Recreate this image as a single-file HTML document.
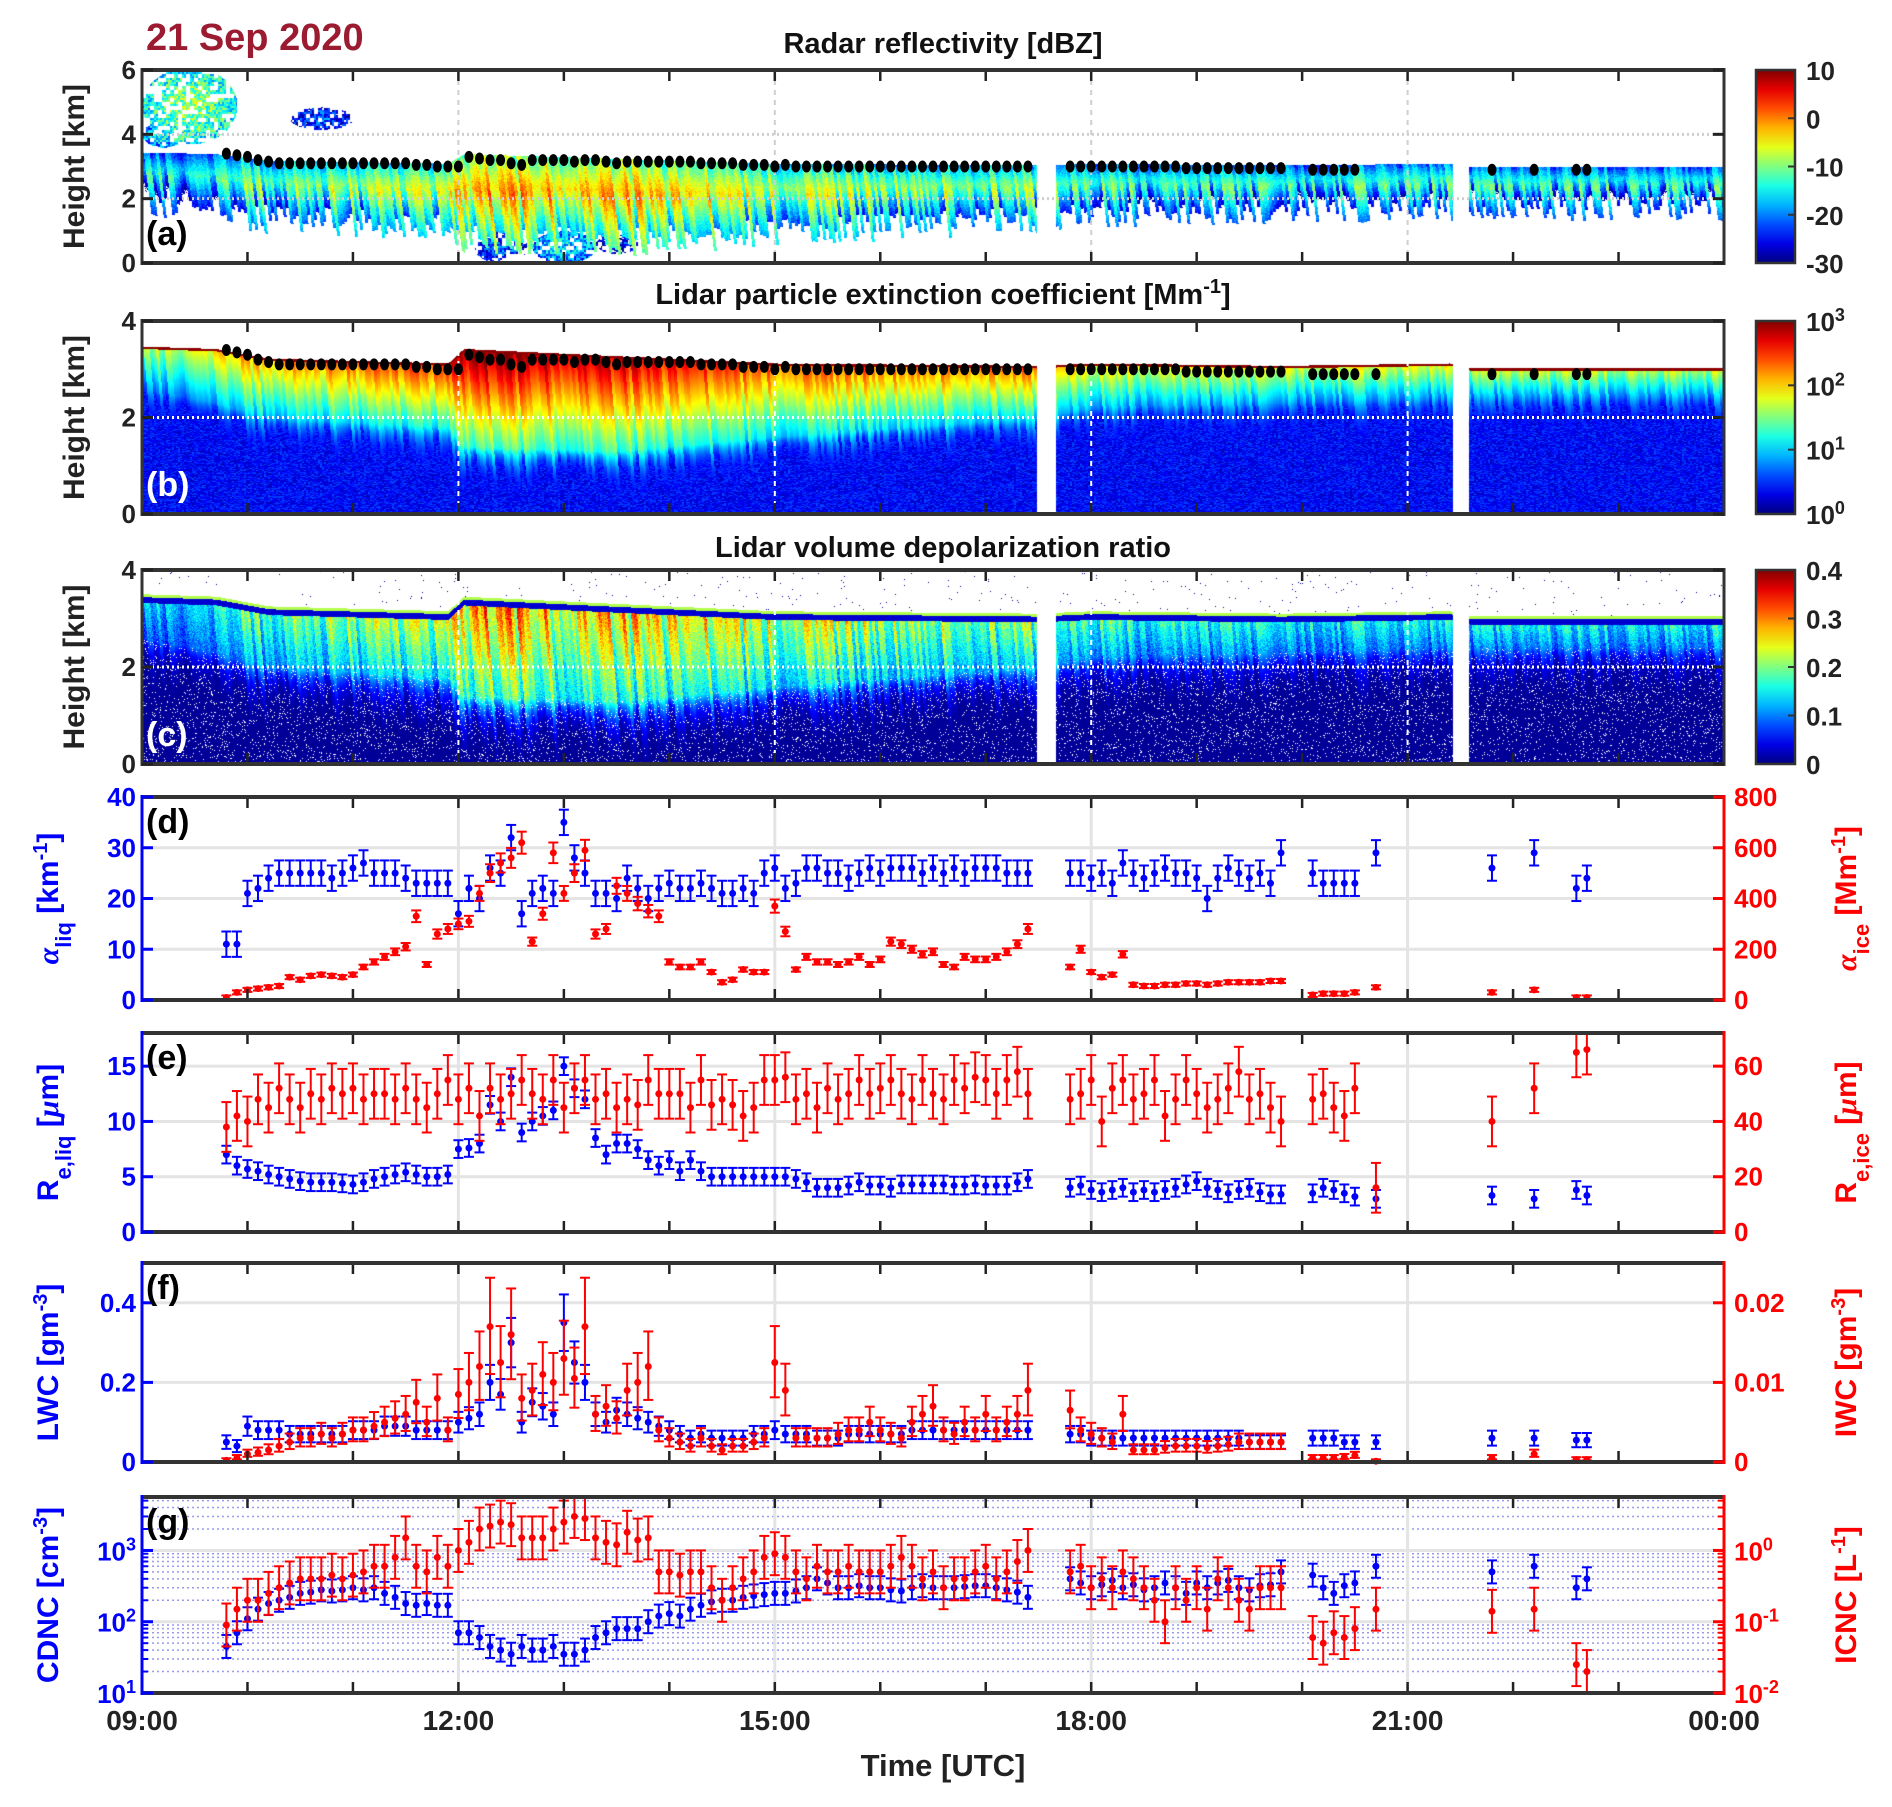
<!DOCTYPE html>
<html><head><meta charset="utf-8">
<style>
html,body{margin:0;padding:0;background:#fff;}
#root{position:relative;width:1892px;height:1807px;overflow:hidden;font-family:"Liberation Sans",sans-serif;}
canvas{position:absolute;}
svg{position:absolute;left:0;top:0;}
text{font-family:"Liberation Sans",sans-serif;font-weight:bold;}
</style></head>
<body>
<div id="root">
<canvas id="ca"></canvas>
<canvas id="cb"></canvas>
<canvas id="cc"></canvas>
<svg id="sv" width="1892" height="1807"></svg>
</div>
<script>
// ---------------- data ----------------
const T=[9.8,9.9,10.0,10.1,10.2,10.3,10.4,10.5,10.6,10.7,10.8,10.9,
11.0,11.1,11.2,11.3,11.4,11.5,11.6,11.7,11.8,11.9,
12.0,12.1,12.2,12.3,12.4,12.5,12.6,12.7,12.8,12.9,
13.0,13.1,13.2,13.3,13.4,13.5,13.6,13.7,13.8,13.9,
14.0,14.1,14.2,14.3,14.4,14.5,14.6,14.7,14.8,14.9,
15.0,15.1,15.2,15.3,15.4,15.5,15.6,15.7,15.8,15.9,
16.0,16.1,16.2,16.3,16.4,16.5,16.6,16.7,16.8,16.9,
17.0,17.1,17.2,17.3,17.4,
17.8,17.9,18.0,18.1,18.2,18.3,18.4,18.5,18.6,18.7,18.8,18.9,19.0,19.1,19.2,19.3,19.4,19.5,19.6,19.7,19.8,
20.1,20.2,20.3,20.4,20.5,20.7,
21.8,22.2,22.6,22.7];
const alphaLiq=[11,11,21,22,24,25,25,25,25,25,24,25,
26,27,25,25,25,24,23,23,23,23,
17,22,20,26,25,32,17,21,22,21,
35,28,25,21,21,20,24,22,20,22,
23,22,22,23,22,21,21,22,21,25,
26,22,23,26,26,25,25,24,25,26,
25,26,26,26,25,26,25,26,25,26,
26,26,25,25,25,
25,25,24,25,23,27,25,24,25,26,25,25,24,20,24,26,25,24,25,23,29,
25,23,23,23,23,29,
26,29,22,24];
const alphaIce=[10,30,40,45,50,55,90,80,95,100,95,90,
100,130,150,170,190,210,330,140,260,280,
300,310,420,500,540,560,620,230,340,580,
420,500,590,260,280,450,420,380,350,330,
150,130,130,150,110,70,80,120,110,110,
370,270,120,170,150,150,140,150,170,140,
160,230,220,200,180,190,140,130,170,160,
160,170,190,220,280,
130,200,110,90,100,180,60,55,55,60,60,65,65,60,65,70,70,70,70,75,75,
20,25,25,25,30,50,
30,40,10,10];
const reLiq=[7,6,5.7,5.5,5.2,5,4.8,4.6,4.5,4.5,4.5,4.4,
4.3,4.5,4.8,5,5.2,5.4,5.2,5,5,5.2,
7.5,7.6,8,11.5,10,14,9,10,10.5,11,
15,13,12,8.5,7,8,8,7.5,6.5,6,
6.5,5.5,6.5,5.5,5,5,5,5,5,5,
5,5,4.8,4.5,4,4,4,4.2,4.5,4.2,
4.2,4,4.3,4.3,4.3,4.3,4.3,4.2,4.2,4.3,
4.2,4.2,4.2,4.5,4.8,
4,4.2,3.8,3.6,3.8,4,3.6,3.8,3.6,3.8,4,4.3,4.6,4,3.8,3.5,3.8,4,3.6,3.4,3.4,
3.5,4,3.8,3.5,3.2,3.0,
3.3,3.0,3.8,3.3];
const reIce=[38,42,40,48,45,52,48,45,50,48,52,50,
52,48,50,50,48,52,48,45,50,55,
48,52,42,52,48,50,55,50,48,55,
45,52,55,48,50,45,48,46,55,50,
50,50,45,55,46,48,46,42,45,55,
55,56,48,50,45,52,48,50,55,50,
52,55,50,48,55,50,48,55,52,56,
55,50,55,58,50,
48,50,55,40,52,55,48,50,55,42,48,55,50,45,48,52,58,48,50,45,40,
48,50,45,42,52,16,
40,52,65,66];
const lwc=[.05,.04,.09,.08,.08,.08,.07,.07,.07,.07,.07,.07,
.08,.08,.08,.09,.09,.09,.08,.08,.08,.08,
.10,.11,.12,.2,.17,.3,.1,.15,.14,.12,
.35,.25,.2,.12,.1,.13,.12,.11,.1,.09,
.08,.07,.06,.07,.06,.06,.06,.06,.07,.07,
.08,.07,.07,.07,.06,.06,.06,.07,.07,.07,
.07,.07,.07,.08,.08,.08,.08,.08,.08,.08,
.08,.08,.08,.08,.08,
.07,.07,.06,.06,.06,.06,.06,.06,.06,.06,.06,.06,.06,.06,.06,.06,.06,.05,.05,.05,.05,
.06,.06,.06,.05,.05,.05,
.06,.06,.055,.055];
const iwc=[0.0002,0.0005,0.001,0.0012,0.0015,0.002,0.0025,0.003,0.003,0.0035,0.003,0.0035,
0.004,0.004,0.0045,0.005,0.0055,0.006,0.0075,0.005,0.008,0.004,
0.0085,0.010,0.012,0.017,0.0125,0.016,0.008,0.009,0.011,0.010,
0.013,0.0105,0.017,0.006,0.007,0.0055,0.009,0.010,0.012,0.004,
0.003,0.0025,0.002,0.003,0.002,0.0015,0.002,0.002,0.0025,0.003,
0.0125,0.009,0.003,0.003,0.003,0.003,0.0035,0.004,0.004,0.005,
0.004,0.0035,0.003,0.005,0.006,0.007,0.004,0.0035,0.005,0.004,
0.006,0.004,0.005,0.006,0.009,
0.0065,0.004,0.0035,0.003,0.0025,0.006,0.0015,0.0015,0.0015,0.0018,0.002,0.002,0.002,0.0018,0.002,0.0022,0.0025,0.0025,0.0025,0.0025,0.0025,
0.0005,0.0005,0.0005,0.0006,0.0008,0.0001,
0.0005,0.001,0.0003,0.0003];
const cdnc=[45,70,110,150,180,200,220,250,260,280,270,280,
300,280,300,250,220,180,170,180,170,170,
70,70,60,45,40,35,45,40,40,45,
35,35,40,60,70,80,80,80,100,120,
130,120,150,170,190,200,200,220,230,240,
250,250,270,300,400,350,300,300,320,300,
300,280,270,300,320,300,300,300,310,320,
320,300,280,260,220,
400,350,300,330,380,300,330,280,300,350,300,250,350,300,350,380,300,280,320,330,500,
450,300,250,320,350,600,
500,600,300,400];
const icnc=[.09,.15,.2,.2,.25,.3,.35,.4,.4,.4,.45,.4,
.45,.5,.6,.6,.8,1.5,.6,.5,.8,.6,
1,1.3,2,2.2,2.5,2.3,1.5,1.5,1.5,2,
2.5,3,2.8,1.5,1.3,1.2,1.8,1.4,1.5,.5,
.5,.45,.5,.5,.3,.2,.3,.4,.5,.8,
.9,.8,.5,.4,.6,.5,.5,.6,.5,.5,
.5,.6,.8,.6,.4,.5,.3,.4,.4,.5,
.6,.4,.5,.7,1.0,
.5,.6,.3,.4,.3,.5,.4,.3,.2,.1,.3,.2,.3,.15,.4,.3,.2,.15,.3,.3,.3,
.06,.05,.07,.06,.08,.15,
.14,.15,.025,.02];
const topKm=[3.4,3.35,3.3,3.2,3.15,3.1,3.1,3.1,3.1,3.1,3.1,3.1,
3.1,3.1,3.1,3.1,3.1,3.1,3.05,3.05,3.0,3.0,
3.0,3.3,3.25,3.2,3.2,3.1,3.05,3.2,3.2,3.2,
3.2,3.15,3.2,3.2,3.15,3.1,3.15,3.15,3.15,3.15,
3.15,3.15,3.15,3.1,3.1,3.1,3.1,3.05,3.05,3.05,
3.0,3.05,3.0,3.0,3.0,3.0,3.0,3.0,3.0,3.0,
3.0,3.0,3.0,3.0,3.0,3.0,3.0,3.0,3.0,3.0,
3.0,3.0,3.0,3.0,3.0,
3.0,3.0,3.0,3.0,3.0,3.0,3.0,3.0,3.0,3.0,3.0,2.95,2.95,2.95,2.95,2.95,2.95,2.95,2.95,2.95,2.95,
2.9,2.9,2.9,2.9,2.9,2.9,
2.9,2.9,2.9,2.9];
// heatmap profile arrays
const hmTimes=[9.0,9.7,10.2,11.9,12.05,13.5,15.0,17.5,18.0,19.8,21.4,21.6,24];
const hmTop=[3.45,3.4,3.2,3.1,3.4,3.25,3.1,3.05,3.1,3.05,3.1,3.0,3.0];
const hmBase=[2.6,2.3,2.0,1.8,1.4,1.3,1.6,2.0,2.2,2.3,2.4,2.4,2.4];
const hmDbz=[-15,-12,-10,-7,-2,-2,-7,-9,-12,-13,-12,-13,-13];
const hmExt=[1.5,2.0,2.2,2.5,3.0,2.8,2.4,2.3,1.9,1.8,1.8,1.7,1.7];
const hmDep=[0.15,0.2,0.25,0.28,0.36,0.33,0.3,0.26,0.22,0.2,0.2,0.2,0.2];
const gaps=[[17.48,17.66],[21.43,21.58]];
const radarBlobs=[[9.45,4.9,0.45,1.2,-10],[9.2,4.0,0.2,0.4,-15],[10.7,4.5,0.3,0.35,-22],[12.4,0.5,0.25,0.5,-22],[13.0,0.5,0.3,0.5,-16],[13.5,0.6,0.2,0.3,-24]];

// ---------------- layout ----------------
const L=142,R=1724,W=R-L;
const P={a:[70,263],b:[321,514],c:[570,764],d:[797,1000],e:[1033,1232],f:[1263,1462],g:[1497,1693]};
const xT=t=>L+(t-9)/15*W;
const NS="http://www.w3.org/2000/svg";
const sv=document.getElementById('sv');
function mk(tag,attrs,parent){const e=document.createElementNS(NS,tag);for(const k in attrs)e.setAttribute(k,attrs[k]);(parent||sv).appendChild(e);return e;}
function interp(t,xs,ys){if(t<=xs[0])return ys[0];for(let i=1;i<xs.length;i++){if(t<=xs[i]){const f=(t-xs[i-1])/(xs[i]-xs[i-1]);return ys[i-1]+f*(ys[i]-ys[i-1]);}}return ys[ys.length-1];}
function hash(i,j){let h=(i*374761393+j*668265263)|0;h=(h^(h>>>13))*1274126177|0;return ((h^(h>>>16))>>>0)/4294967296;}
function jet(v){v=Math.max(0,Math.min(1,v));const c=x=>Math.round(255*Math.max(0,Math.min(1,x)));return [c(1.5-Math.abs(4*v-3)),c(1.5-Math.abs(4*v-2)),c(1.5-Math.abs(4*v-1))];}
function inGap(t){return gaps.some(g=>t>=g[0]&&t<=g[1]);}

// ---------------- heatmaps ----------------
function heat(id,key,hmax,fn){
  const [y0,y1]=P[key];const H=y1-y0;const cv=document.getElementById(id);
  cv.width=W;cv.height=H;cv.style.left=L+'px';cv.style.top=y0+'px';
  const ctx=cv.getContext('2d');const img=ctx.createImageData(W,H);
  for(let x=0;x<W;x++){const t=9+x/W*15;const gap=inGap(t);
    const top=interp(t,hmTimes,hmTop),base=interp(t,hmTimes,hmBase);
    for(let y=0;y<H;y++){const h=(H-y)/H*hmax;let col=[255,255,255];
      if(!gap){const c=fn(t,h,x,y,top,base);if(c)col=c;}
      const k=(y*W+x)*4;img.data[k]=col[0];img.data[k+1]=col[1];img.data[k+2]=col[2];img.data[k+3]=255;}}
  ctx.putImageData(img,0,0);
}
function streak(x,h){return hash(Math.floor((x+h*4)/3),7);}
heat('ca','a',6,(t,h,x,y,top,base)=>{
  let v=-99;
  const n=streak(x,h);
  const b=base-0.9*n-0.2;
  if(h<=top&&h>=b){const f=(h-b)/(top-b);v=interp(t,hmTimes,hmDbz)-22*Math.abs(f-0.6)+(n-0.5)*10+(hash(x,y)-0.5)*4;}
  for(const bl of radarBlobs){const dx=(t-bl[0])/bl[2],dy=(h-bl[1])/bl[3];const d=dx*dx+dy*dy;if(d<1){const q=bl[4]-6*d+(hash(x>>1,y>>1)-0.5)*12;if(q>v&&hash(x>>2,y>>2)>0.3)v=q;}}
  if(v<-30)return null;return jet((v+30)/40);
});
heat('cb','b',4,(t,h,x,y,top,base)=>{
  if(h>top+0.03)return null;
  if(h>top-0.02)return [140,0,0];
  const n=streak(x,h);let lv;const pk=interp(t,hmTimes,hmExt);
  if(h>=base){const f=(h-base)/(top-base);lv=pk*(0.45+0.55*f)+(n-0.5)*0.5;}
  else{lv=Math.max(0.15+0.45*hash(x>>1,y),(pk*0.45+(n-0.5)*0.5)*Math.exp(-(base-h)/(0.2+0.4*n)));}
  return jet(lv/3);
});
heat('cc','c',4,(t,h,x,y,top,base)=>{
  if(h>top+0.06)return (hash(x,y)>0.995)?[0,0,150]:null;
  if(h>top)return jet(0.55);
  if(h>top-0.12)return jet(0.08);
  const n=streak(x,h);const pk=interp(t,hmTimes,hmDep);
  if(h>=base){const f=(h-base)/(top-base);return jet(pk*(0.55+0.5*n)*(0.6+0.4*f)/0.4+(hash(x,y)-0.5)*0.15);}
  if(hash(x,y)>0.94)return null;
  const v=Math.max(0.01,pk*0.6*(0.55+0.5*n)*Math.exp(-(base-h)/(0.2+0.3*n)));
  return jet(v/0.4);
});

// ---------------- helpers ----------------
function txt(x,y,s,attrs,parent){const e=mk('text',Object.assign({x:x,y:y},attrs||{}),parent);e.textContent=s;return e;}
function vlabel(x,yc,parts,fill,name){
  const g=mk('g',{transform:`translate(${x},${yc}) rotate(-90)`});
  
  
  const t=mk('text',{x:0,y:0,'text-anchor':'middle',fill:fill,'font-size':30},g);
  for(const p of parts){const ts=mk('tspan',{},t);ts.textContent=p[0];
    if(p[1]==='sub'){ts.setAttribute('baseline-shift','sub');ts.setAttribute('font-size','22');}
    if(p[1]==='sup'){ts.setAttribute('baseline-shift','super');ts.setAttribute('font-size','20');}
    if(p[1]==='it'){ts.setAttribute('font-style','italic');ts.setAttribute('font-family','Liberation Serif, serif');}}
  return g;
}
const hourTicks=[9,10,11,12,13,14,15,16,17,18,19,20,21,22,23,24];
function frame(key,leftCol,rightCol,gname){
  const [y0,y1]=P[key];
  const g=mk('g',{});
  
  
  for(const h of hourTicks){const x=xT(h);
    mk('line',{x1:x,x2:x,y1:y1,y2:y1-11,stroke:'#222','stroke-width':2.5},g);
    mk('line',{x1:x,x2:x,y1:y0,y2:y0+11,stroke:'#222','stroke-width':2.5},g);}
  mk('line',{x1:L,x2:R,y1:y0,y2:y0,stroke:'#333','stroke-width':4},g);
  mk('line',{x1:L,x2:R,y1:y1,y2:y1,stroke:'#333','stroke-width':4},g);
  mk('line',{x1:L,x2:L,y1:y0-2,y2:y1+2,stroke:leftCol,'stroke-width':3},g);
  mk('line',{x1:R,x2:R,y1:y0-2,y2:y1+2,stroke:rightCol,'stroke-width':3},g);
  return g;
}
function yticks(key,vals,labels,fy,side,col,g){
  for(let i=0;i<vals.length;i++){const y=fy(vals[i]);
    if(side==='l'){mk('line',{x1:L,x2:L+11,y1:y,y2:y,stroke:col,'stroke-width':3},g);
      const t=txt(L-6,y+9,labels[i],{'text-anchor':'end',fill:col,'font-size':26},g);
      
      }
    else{mk('line',{x1:R,x2:R-11,y1:y,y2:y,stroke:col,'stroke-width':3},g);
      const t=txt(R+10,y+9,labels[i],{'text-anchor':'start',fill:col,'font-size':26},g);
      
      }}
}
function supLabel(x,y,base,exp,col,anchor,g){
  const t=mk('text',{x:x,y:y,fill:col,'font-size':26,'text-anchor':anchor},g);
  const a=mk('tspan',{},t);a.textContent=base;
  const b=mk('tspan',{'baseline-shift':'super','font-size':18},t);b.textContent=exp;return t;
}

// ---------------- heatmap panels decorations ----------------
const hmPanels=[['a',6,[0,2,4,6],'(a)','#000'],['b',4,[0,2,4],'(b)','#fff'],['c',4,[0,2,4],'(c)','#fff']];
for(const hp of hmPanels){
  const [key,hmax,ticks,lab,labCol]=hp;const [y0,y1]=P[key];
  const fy=v=>y1-v/hmax*(y1-y0);
  const g=mk('g',{});
  
  
  const lc=key==='a'?'#cfcfcf':'#ffffff';
  for(const hl of (key==='a'?[2,4]:[2])){const l=mk('line',{x1:L,x2:R,y1:fy(hl),y2:fy(hl),stroke:lc,'stroke-width':3,'stroke-dasharray':'2,3'},g);
    
    }
  for(const vl of [12,15,18,21]){const l=mk('line',{x1:xT(vl),x2:xT(vl),y1:y0,y2:y1,stroke:lc,'stroke-width':2,'stroke-dasharray':'5,5'},g);
    
    }
  if(key!=='c'){for(let i=0;i<T.length;i++){if(key==='a'&&(T[i]===20.7))continue;
    const d=mk('ellipse',{cx:xT(T[i]),cy:fy(topKm[i]),rx:4.5,ry:6,fill:'#000'},g);
    
    }}
  const fg=frame(key,'#333','#333','axes-frame-'+key);
  yticks(key,ticks,ticks.map(String),fy,'l','#222',fg);
  for(const v of ticks){mk('line',{x1:R,x2:R-11,y1:fy(v),y2:fy(v),stroke:'#222','stroke-width':3},fg);}
  const pl=txt(L+4,y1-18,lab,{fill:labCol,'font-size':34});
  
  
  vlabel(84,(y0+y1)/2,[['Height [km]','']],'#222','y-axis-title-'+key);
}
let tt=txt(943,53,'Radar reflectivity [dBZ]',{'text-anchor':'middle','font-size':29,fill:'#111'});


tt=mk('text',{x:943,y:304,'text-anchor':'middle','font-size':29,fill:'#111'});


(function(){const a=mk('tspan',{},tt);a.textContent='Lidar particle extinction coefficient [Mm';const b=mk('tspan',{'baseline-shift':'super','font-size':20},tt);b.textContent='-1';const c=mk('tspan',{'baseline-shift':'baseline'},tt);c.textContent=']';})();
tt=txt(943,557,'Lidar volume depolarization ratio',{'text-anchor':'middle','font-size':29,fill:'#111'});


tt=txt(146,50,'21 Sep 2020',{'font-size':38,fill:'#9b1b30'});



// colorbars
const defs=mk('defs',{});
const gr=mk('linearGradient',{id:'jetg',x1:0,y1:1,x2:0,y2:0},defs);
for(let i=0;i<=10;i++){const c=jet(i/10);mk('stop',{offset:i/10,'stop-color':`rgb(${c})`},gr);}
const cbX=1756,cbW=39;
const cbDefs=[['a',['10','0','-10','-20','-30'],null],['b',['10','10','10','10'],['3','2','1','0']],['c',['0.4','0.3','0.2','0.1','0'],null]];
for(const cb of cbDefs){const [key,labs,exps]=cb;const [y0,y1]=P[key];
  const g=mk('g',{});
  
  
  mk('rect',{x:cbX,y:y0,width:cbW,height:y1-y0,fill:'url(#jetg)',stroke:'#333','stroke-width':2.5},g);
  for(let i=0;i<labs.length;i++){const y=y0+i/(labs.length-1)*(y1-y0);
    mk('line',{x1:cbX+cbW,x2:cbX+cbW-7,y1:y,y2:y,stroke:'#333','stroke-width':2},g);
    if(exps)supLabel(1806,y+10,labs[i],exps[i],'#222','start',g);
    else txt(1806,y+10,labs[i],{'font-size':26,fill:'#222'},g);}
}

// ---------------- point panels ----------------
const BLUE='#0000ff',RED='#ff0000';
function pointPanel(key,opt){
  const [y0,y1]=P[key];
  const g=mk('g',{});
  
  
  const fyL=opt.log?v=>y1-(Math.log10(v)-opt.lmin)/(opt.lmax-opt.lmin)*(y1-y0):v=>y1-v/opt.lmax*(y1-y0);
  const fyR=opt.log?v=>y1-(Math.log10(v)-opt.rmin)/(opt.rmax-opt.rmin)*(y1-y0):v=>y1-v/opt.rmax*(y1-y0);
  if(opt.log){for(let d=opt.lmin;d<Math.ceil(opt.lmax);d++){for(let m=2;m<=9;m++){const v=m*Math.pow(10,d);if(Math.log10(v)>opt.lmax)break;
      const l=mk('line',{x1:L,x2:R,y1:fyL(v),y2:fyL(v),stroke:'#9999ee','stroke-width':1.5,'stroke-dasharray':'2,3'},g);
      
      }}}
  for(const v of opt.lt){const l=mk('line',{x1:L,x2:R,y1:fyL(v),y2:fyL(v),stroke:'#e4e4e4','stroke-width':3},g);
    
    }
  for(const vl of [12,15,18,21]){const l=mk('line',{x1:xT(vl),x2:xT(vl),y1:y0,y2:y1,stroke:'#e4e4e4','stroke-width':3},g);
    
    }
  function series(vals,fy,col,errFn,name){
    const sg=mk('g',{},g);
    
    
    for(let i=0;i<T.length;i++){const v=vals[i];if(v==null)continue;const x=xT(T[i]);const [lo,hi]=errFn(v);
      const ya=Math.max(y0,fy(hi)),yb=Math.min(y1,fy(lo));
      mk('line',{x1:x,x2:x,y1:ya,y2:yb,stroke:col,'stroke-width':2},sg);
      mk('line',{x1:x-5,x2:x+5,y1:ya,y2:ya,stroke:col,'stroke-width':2},sg);
      mk('line',{x1:x-5,x2:x+5,y1:yb,y2:yb,stroke:col,'stroke-width':2},sg);
      const c=mk('circle',{cx:x,cy:fy(v),r:3.5,fill:col},sg);
      
      }
  }
  series(opt.sL,fyL,BLUE,opt.eL,opt.nL);
  series(opt.sR,fyR,RED,opt.eR,opt.nR);
  const fg=frame(key,BLUE,RED,'axes-frame-'+key);
  if(opt.log){for(let i=0;i<opt.lt.length;i++){const y=fyL(opt.lt[i]);mk('line',{x1:L,x2:L+11,y1:y,y2:y,stroke:BLUE,'stroke-width':3},fg);supLabel(L-6,y+10,'10',opt.lexp[i],BLUE,'end',fg);}
    for(let i=0;i<opt.rt.length;i++){const y=fyR(opt.rt[i]);mk('line',{x1:R,x2:R-11,y1:y,y2:y,stroke:RED,'stroke-width':3},fg);supLabel(R+10,y+10,'10',opt.rexp[i],RED,'start',fg);}
    for(let d=opt.lmin;d<Math.ceil(opt.lmax);d++){for(let m=2;m<=9;m++){const v=m*Math.pow(10,d);if(Math.log10(v)>opt.lmax)break;
      mk('line',{x1:L,x2:L+6,y1:fyL(v),y2:fyL(v),stroke:BLUE,'stroke-width':2},fg);mk('line',{x1:R,x2:R-6,y1:fyL(v),y2:fyL(v),stroke:RED,'stroke-width':2},fg);}}}
  else{yticks(key,opt.lt,opt.ltl,fyL,'l',BLUE,fg);yticks(key,opt.rt,opt.rtl,fyR,'r',RED,fg);}
  const pl=txt(L+4,y0+36,'('+key+')',{fill:'#000','font-size':34});
  
  
  vlabel(58,(y0+y1)/2,opt.labL,BLUE,'y-axis-title-'+key);
  vlabel(1856,(y0+y1)/2,opt.labR,RED,'y2-axis-title-'+key);
}
pointPanel('d',{lmax:40,rmax:800,lt:[0,10,20,30,40],ltl:['0','10','20','30','40'],rt:[0,200,400,600,800],rtl:['0','200','400','600','800'],
  sL:alphaLiq,sR:alphaIce,eL:v=>[v-2.5,v+2.5],eR:v=>[v-Math.max(8,v*0.07),v+Math.max(8,v*0.07)],nL:'alpha-liq-series',nR:'alpha-ice-series',
  labL:[['α','it'],['liq','sub'],[' [km',''],['-1','sup'],[']','']],labR:[['α','it'],['ice','sub'],[' [Mm',''],['-1','sup'],[']','']]});
pointPanel('e',{lmax:18,rmax:72,lt:[0,5,10,15],ltl:['0','5','10','15'],rt:[0,20,40,60],rtl:['0','20','40','60'],
  sL:reLiq,sR:reIce,eL:v=>[v-0.8,v+0.8],eR:v=>[v-9,v+9],nL:'re-liq-series',nR:'re-ice-series',
  labL:[['R',''],['e,liq','sub'],[' [',''],['μ','it'],['m]','']],labR:[['R',''],['e,ice','sub'],[' [',''],['μ','it'],['m]','']]});
pointPanel('f',{lmax:0.5,rmax:0.025,lt:[0,0.2,0.4],ltl:['0','0.2','0.4'],rt:[0,0.01,0.02],rtl:['0','0.01','0.02'],
  sL:lwc,sR:iwc,eL:v=>[v-v*0.18-0.008,v+v*0.18+0.008],eR:v=>[v-v*0.35,v+v*0.35+0.0002],nL:'lwc-series',nR:'iwc-series',
  labL:[['LWC [gm',''],['-3','sup'],[']','']],labR:[['IWC [gm',''],['-3','sup'],[']','']]});
pointPanel('g',{log:true,lmin:1,lmax:3.75,rmin:-2,rmax:0.75,lt:[10,100,1000],lexp:['1','2','3'],rt:[0.01,0.1,1],rexp:['-2','-1','0'],
  sL:cdnc,sR:icnc,eL:v=>[v/1.45,v*1.45],eR:v=>[v/2,v*2],nL:'cdnc-series',nR:'icnc-series',
  labL:[['CDNC [cm',''],['-3','sup'],[']','']],labR:[['ICNC [L',''],['-1','sup'],[']','']]});

const xtl=['09:00','12:00','15:00','18:00','21:00','00:00'];
const xtv=[9,12,15,18,21,24];
for(let i=0;i<xtv.length;i++){const t=txt(xT(xtv[i]),1730,xtl[i],{'text-anchor':'middle','font-size':28,fill:'#222'});
  
  }
tt=txt(943,1776,'Time [UTC]',{'text-anchor':'middle','font-size':31,fill:'#222'});


</script>
</body></html>
